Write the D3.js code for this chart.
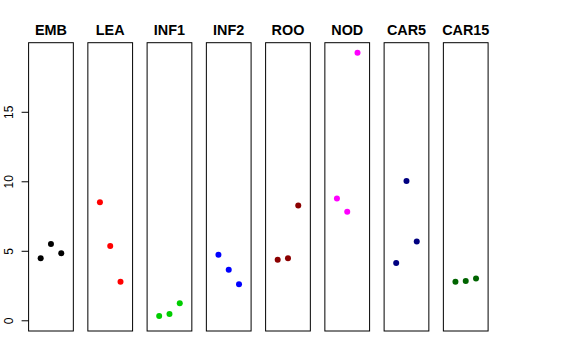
<!DOCTYPE html>
<html>
<head>
<meta charset="utf-8">
<script src="https://cdn.jsdelivr.net/npm/d3@7"></script>
<style>
  body { margin: 0; background: #fff; }
  svg { display: block; font-family: "Liberation Sans", Arial, sans-serif; }
</style>
</head>
<body>
<div id="chart"></div>
<script>
// groups and their three values each
const groups = ['EMB', 'LEA', 'INF1', 'INF2', 'ROO', 'NOD', 'CAR5', 'CAR15']
const colours = ['#000000', '#FF0000', '#00CD00', '#0000FF', '#8B0000', '#FF00FF', '#000080', '#006400']
const values = [
  [4.46, 5.49, 4.82],
  [8.50, 5.35, 2.77],
  [0.31, 0.46, 1.23],
  [4.72, 3.64, 2.60],
  [4.36, 4.46, 8.26],
  [8.77, 7.80, 19.24],
  [4.12, 10.02, 5.66],
  [2.77, 2.82, 3.01]
]
const yTicks = [0, 5, 10, 15]

const width = 576, height = 360
let svg = d3.select('#chart').append('svg')
  .attr('width', width)
  .attr('height', height)

// panels
let xScale = d3.scaleBand().domain(groups).range([28.6, 488.1]).paddingInner(0.245).paddingOuter(0)
let yScale = d3.scaleLinear().domain([-0.77, 19.97]).range([331, 42.7])
let bw = xScale.bandwidth()
let inner = d3.scalePoint().domain([0, 1, 2]).range([bw * 0.27, bw * 0.73])

let panels = svg.selectAll('g.panel')
  .data(groups.map((g, i) => ({name: g, colour: colours[i], vals: values[i]})))
  .enter()
  .append('g')
  .attr('class', 'panel')
  .attr('transform', d => `translate(${xScale(d.name)},0)`)

panels.append('rect')
  .attr('x', 0)
  .attr('y', yScale.range()[1])
  .attr('width', bw)
  .attr('height', yScale.range()[0] - yScale.range()[1])
  .attr('fill', 'none')
  .attr('stroke', '#000')
  .attr('stroke-width', 1)

panels.append('text')
  .attr('x', bw / 2)
  .attr('y', 35)
  .attr('text-anchor', 'middle')
  .attr('font-weight', 'bold')
  .attr('font-size', '14.4px')
  .text(d => d.name)

panels.selectAll('circle')
  .data(d => d.vals.map((v, j) => ({v: v, j: j, colour: d.colour})))
  .enter()
  .append('circle')
  .attr('cx', d => inner(d.j))
  .attr('cy', d => yScale(d.v))
  .attr('r', 3)
  .attr('fill', d => d.colour)

// y axis on the first panel
let yAxis = d3.axisLeft(yScale).tickValues(yTicks).tickSize(7).tickFormat(d3.format('d'))
let axisG = svg.append('g')
  .attr('transform', `translate(${xScale(groups[0])},0)`)
  .call(yAxis)
axisG.select('.domain').remove()
axisG.selectAll('.tick line').attr('stroke', '#000')
axisG.selectAll('.tick text')
  .attr('font-size', '12px')
  .attr('font-family', '"Liberation Sans", Arial, sans-serif')
  .attr('fill', '#000')
  .attr('x', 0)
  .attr('dy', 0)
  .attr('text-anchor', 'middle')
  .attr('transform', 'translate(-15.5,0) rotate(-90)')
</script>
</body>
</html>
